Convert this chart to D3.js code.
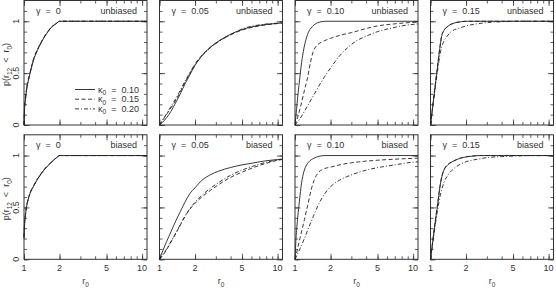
<!DOCTYPE html>
<html><head><meta charset="utf-8">
<script src="https://cdn.jsdelivr.net/npm/d3@7"></script>
<style>
body{margin:0;background:#fff;}
svg{display:block;font-family:"Liberation Sans",Arial,sans-serif;}
</style></head>
<body><svg id="c" width="556" height="290"></svg>
<script>
// ---- data ----
const gammaLabels = ["γ  =  0", "γ  =  0.05", "γ  =  0.10", "γ  =  0.15"];
const biasLabels = ["unbiased", "biased"];
const kappaValues = ["0.10", "0.15", "0.20"];
const xTickValues = [1, 2, 5, 10];
const xMinorTicks = [1, 2, 3, 4, 5, 6, 7, 8, 9, 10];
const yTickValues = [0, 0.5, 1];
const yMinorTicks = [0, 0.1, 0.2, 0.3, 0.4, 0.5, 0.6, 0.7, 0.8, 0.9, 1, 1.1];

// unbiased row: [r0, p]
const unb_g000_k010 = [[1,0],[1.01,0.14],[1.03,0.25],[1.05,0.33],[1.1,0.45],[1.15,0.54],[1.2,0.62],[1.3,0.72],[1.4,0.795],[1.5,0.855],[1.6,0.9],[1.7,0.94],[1.8,0.963],[1.9,0.983],[2,1],[11,1]];
const unb_g000_k015 = [[1,0],[1.01,0.16],[1.03,0.27],[1.05,0.35],[1.1,0.46],[1.15,0.55],[1.2,0.63],[1.3,0.73],[1.4,0.8],[1.5,0.86],[1.6,0.905],[1.7,0.943],[1.8,0.965],[1.9,0.984],[2,1],[11,1]];
const unb_g000_k020 = [[1,0],[1.01,0.15],[1.03,0.26],[1.05,0.34],[1.1,0.455],[1.15,0.545],[1.2,0.625],[1.3,0.725],[1.4,0.797],[1.5,0.857],[1.6,0.902],[1.7,0.941],[1.8,0.964],[1.9,0.983],[2,1],[11,1]];

const unb_g005_k010 = [[1,0],[1.1,0.045],[1.2,0.1],[1.3,0.165],[1.4,0.235],[1.5,0.3],[1.65,0.4],[1.8,0.48],[2,0.575],[2.3,0.67],[2.7,0.75],[3,0.79],[4,0.875],[5,0.92],[7,0.96],[10,0.98],[11,0.985]];
const unb_g005_k015 = [[1,0],[1.1,0.07],[1.2,0.135],[1.3,0.195],[1.4,0.255],[1.5,0.32],[1.65,0.415],[1.8,0.495],[2,0.585],[2.3,0.675],[2.7,0.75],[3,0.79],[4,0.87],[5,0.915],[7,0.955],[10,0.978],[11,0.983]];
const unb_g005_k020 = [[1,0],[1.1,0.075],[1.2,0.145],[1.3,0.21],[1.4,0.27],[1.5,0.335],[1.65,0.425],[1.8,0.5],[2,0.585],[2.3,0.67],[2.7,0.745],[3,0.785],[4,0.87],[5,0.925],[7,0.965],[10,0.982],[11,0.986]];

const unb_g010_k010 = [[1,0],[1.03,0.15],[1.05,0.25],[1.08,0.38],[1.1,0.46],[1.125,0.56],[1.15,0.64],[1.2,0.76],[1.25,0.84],[1.3,0.895],[1.37,0.935],[1.45,0.965],[1.55,0.985],[1.7,0.997],[1.8,1],[11,1]];
const unb_g010_k015 = [[1,0],[1.05,0.07],[1.1,0.15],[1.15,0.24],[1.2,0.33],[1.28,0.46],[1.35,0.6],[1.42,0.7],[1.5,0.755],[1.6,0.785],[1.8,0.815],[2,0.835],[2.5,0.87],[3,0.89],[4,0.93],[5,0.955],[7,0.975],[10,0.99],[11,0.993]];
const unb_g010_k020 = [[1,0],[1.1,0.06],[1.2,0.13],[1.3,0.2],[1.46,0.3],[1.7,0.43],[2.03,0.56],[2.4,0.67],[2.82,0.75],[3.3,0.81],[3.9,0.85],[5,0.9],[6.6,0.935],[8,0.955],[10,0.97],[11,0.975]];

const unb_g015_k010 = [[1,0],[1.05,0.2],[1.1,0.39],[1.15,0.57],[1.2,0.74],[1.24,0.85],[1.3,0.91],[1.4,0.95],[1.56,0.98],[1.8,0.995],[2,1],[11,1]];
const unb_g015_k015 = [[1,0],[1.05,0.21],[1.1,0.4],[1.15,0.58],[1.2,0.75],[1.24,0.855],[1.3,0.912],[1.4,0.952],[1.56,0.98],[1.8,0.995],[2,1],[11,1]];
const unb_g015_k020 = [[1,0],[1.05,0.19],[1.1,0.37],[1.15,0.53],[1.2,0.67],[1.25,0.76],[1.3,0.81],[1.37,0.85],[1.5,0.9],[1.77,0.935],[2,0.955],[2.47,0.975],[3,0.987],[4,0.995],[5,1],[11,1]];

// biased row
const bia_g000_k010 = [[1,0.2],[1.01,0.32],[1.03,0.43],[1.05,0.5],[1.1,0.6],[1.125,0.635],[1.2,0.7],[1.3,0.77],[1.37,0.81],[1.5,0.87],[1.67,0.925],[1.8,0.96],[1.9,0.982],[2,1],[11,1]];
const bia_g000_k015 = [[1,0.22],[1.01,0.34],[1.03,0.44],[1.05,0.51],[1.1,0.605],[1.125,0.64],[1.2,0.705],[1.3,0.775],[1.37,0.813],[1.5,0.872],[1.67,0.927],[1.8,0.961],[1.9,0.983],[2,1],[11,1]];
const bia_g000_k020 = [[1,0.21],[1.01,0.33],[1.03,0.435],[1.05,0.505],[1.1,0.6],[1.125,0.637],[1.2,0.702],[1.3,0.772],[1.37,0.811],[1.5,0.871],[1.67,0.926],[1.8,0.96],[1.9,0.982],[2,1],[11,1]];

const bia_g005_k010 = [[1,0],[1.1,0.12],[1.2,0.22],[1.3,0.31],[1.4,0.39],[1.5,0.46],[1.64,0.55],[1.8,0.63],[2,0.69],[2.28,0.76],[2.7,0.815],[3.17,0.85],[4,0.885],[5,0.91],[6.1,0.927],[8,0.95],[10,0.962],[11,0.966]];
const bia_g005_k015 = [[1,0],[1.1,0.06],[1.2,0.13],[1.3,0.2],[1.4,0.265],[1.5,0.33],[1.64,0.41],[1.8,0.48],[2,0.54],[2.28,0.6],[2.7,0.665],[3.17,0.72],[4,0.79],[5,0.84],[6.1,0.88],[8,0.925],[10,0.955],[11,0.962]];
const bia_g005_k020 = [[1,0],[1.1,0.065],[1.2,0.135],[1.3,0.205],[1.4,0.27],[1.5,0.335],[1.64,0.415],[1.8,0.485],[2,0.55],[2.28,0.615],[2.7,0.685],[3.17,0.74],[4,0.81],[5,0.86],[6.1,0.895],[8,0.935],[10,0.958],[11,0.964]];

const bia_g010_k010 = [[1,0],[1.02,0.2],[1.05,0.38],[1.08,0.52],[1.1,0.6],[1.125,0.7],[1.15,0.77],[1.2,0.86],[1.24,0.9],[1.3,0.935],[1.45,0.975],[1.6,0.993],[1.8,1],[11,1]];
const bia_g010_k015 = [[1,0],[1.05,0.1],[1.1,0.2],[1.15,0.29],[1.2,0.38],[1.28,0.52],[1.37,0.67],[1.45,0.76],[1.56,0.83],[1.7,0.865],[2.03,0.89],[2.5,0.915],[3,0.93],[3.9,0.945],[5,0.955],[7,0.965],[10,0.973],[11,0.975]];
const bia_g010_k020 = [[1,0],[1.05,0.05],[1.1,0.1],[1.2,0.2],[1.3,0.3],[1.4,0.39],[1.5,0.47],[1.6,0.54],[1.78,0.63],[2,0.7],[2.4,0.765],[2.8,0.8],[3.5,0.84],[4.2,0.865],[5.4,0.89],[7,0.91],[9,0.93],[11,0.94]];

const bia_g015_k010 = [[1,0],[1.05,0.19],[1.1,0.37],[1.15,0.53],[1.2,0.69],[1.25,0.8],[1.3,0.86],[1.4,0.91],[1.56,0.945],[1.7,0.965],[1.9,0.982],[2.2,0.993],[2.6,1],[11,1]];
const bia_g015_k015 = [[1,0],[1.05,0.2],[1.1,0.38],[1.15,0.54],[1.2,0.7],[1.25,0.805],[1.3,0.862],[1.4,0.912],[1.56,0.947],[1.7,0.967],[1.9,0.983],[2.2,0.994],[2.6,1],[11,1]];
const bia_g015_k020 = [[1,0],[1.05,0.17],[1.1,0.34],[1.15,0.48],[1.2,0.6],[1.25,0.68],[1.3,0.74],[1.4,0.81],[1.56,0.87],[1.78,0.915],[2,0.94],[2.5,0.965],[3,0.98],[4,0.99],[5,0.995],[7,1],[11,1]];

const panelSeries = [
  [[unb_g000_k010, unb_g000_k015, unb_g000_k020],
   [unb_g005_k010, unb_g005_k015, unb_g005_k020],
   [unb_g010_k010, unb_g010_k015, unb_g010_k020],
   [unb_g015_k010, unb_g015_k015, unb_g015_k020]],
  [[bia_g000_k010, bia_g000_k015, bia_g000_k020],
   [bia_g005_k010, bia_g005_k015, bia_g005_k020],
   [bia_g010_k010, bia_g010_k015, bia_g010_k020],
   [bia_g015_k010, bia_g015_k015, bia_g015_k020]]
];

// ---- layout ----
const svg = d3.select("#c");
const panelW = 123, panelH = 124.5;
const panelLefts = [24, 159.5, 295, 430.5];
const panelTops = [0.5, 134.8];
const dashes = [null, "4,2.5", "4,2,1,2"];
const ink = "#333";
const fontSize = 9;

panelTops.forEach((top, row) => {
  panelLefts.forEach((left, col) => {
    const x = d3.scaleLog().domain([1, 11]).range([left, left + panelW]);
    const y = d3.scaleLinear().domain([0, 1.2]).range([top + panelH, top]);
    const g = svg.append("g");

    // ticks via axes (inward)
    const mk = (axis, tf, vals, size) => {
      const a = g.append("g").attr("transform", tf)
        .call(axis.tickValues(vals).tickSize(size).tickFormat(""));
      a.select(".domain").remove();
      a.selectAll("line").attr("stroke", ink).attr("stroke-width", 0.8);
    };
    const bottom = top + panelH, right = left + panelW;
    mk(d3.axisBottom(x), `translate(0,${bottom})`, xMinorTicks, -3);
    mk(d3.axisBottom(x), `translate(0,${bottom})`, xTickValues, -5.5);
    mk(d3.axisTop(x), `translate(0,${top})`, xMinorTicks, -3);
    mk(d3.axisTop(x), `translate(0,${top})`, xTickValues, -5.5);
    mk(d3.axisLeft(y), `translate(${left},0)`, yMinorTicks, -3);
    mk(d3.axisLeft(y), `translate(${left},0)`, yTickValues, -5.5);
    mk(d3.axisRight(y), `translate(${right},0)`, yMinorTicks, -3);
    mk(d3.axisRight(y), `translate(${right},0)`, yTickValues, -5.5);

    // frame
    g.append("rect").attr("x", left).attr("y", top).attr("width", panelW).attr("height", panelH)
      .attr("fill", "none").attr("stroke", ink).attr("stroke-width", 1);

    // curves
    const line = d3.line().x(d => x(d[0])).y(d => y(d[1])).curve(d3.curveMonotoneX);
    panelSeries[row][col].forEach((s, k) => {
      g.append("path").attr("d", line(s)).attr("fill", "none")
        .attr("stroke", "#222").attr("stroke-width", 0.9)
        .attr("stroke-dasharray", dashes[k]);
    });

    // labels
    g.append("text").attr("x", left + 12).attr("y", top + 13)
      .attr("font-size", fontSize).attr("fill", ink).style("white-space", "pre")
      .text(gammaLabels[col]);
    g.append("text").attr("x", right - 10).attr("y", top + 13).attr("text-anchor", "end")
      .attr("font-size", fontSize).attr("fill", ink).text(biasLabels[row]);

    // y tick labels on first column
    if (col === 0) {
      yTickValues.forEach(v => {
        g.append("text").attr("transform", `translate(${left - 5},${y(v)}) rotate(-90)`)
          .attr("text-anchor", "middle").attr("font-size", fontSize).attr("fill", ink).text(v);
      });
      const t = g.append("text").attr("transform", `translate(${left - 15},${top + 64}) rotate(-90)`)
        .attr("text-anchor", "middle").attr("font-size", fontSize).attr("fill", ink);
      t.append("tspan").text("p(r");
      t.append("tspan").attr("dy", 2.5).attr("font-size", 6.5).text("12");
      t.append("tspan").attr("dy", -2.5).style("white-space", "pre").text("  <  r");
      t.append("tspan").attr("dy", 2.5).attr("font-size", 6.5).text("0");
      t.append("tspan").attr("dy", -2.5).text(")");
    }
    // x tick labels on bottom row
    if (row === 1) {
      xTickValues.forEach(v => {
        g.append("text").attr("x", x(v)).attr("y", bottom + 12).attr("text-anchor", "middle")
          .attr("font-size", fontSize).attr("fill", ink).text(v);
      });
      const t = g.append("text").attr("x", left + panelW / 2).attr("y", bottom + 25)
        .attr("text-anchor", "middle").attr("font-size", fontSize).attr("fill", ink);
      t.append("tspan").text("r");
      t.append("tspan").attr("dy", 2.5).attr("font-size", 6.5).text("0");
    }

    // legend in first panel
    if (row === 0 && col === 0) {
      kappaValues.forEach((kv, k) => {
        const ly = top + 89 + k * 9.7;
        g.append("line").attr("x1", left + 51).attr("x2", left + 71).attr("y1", ly).attr("y2", ly)
          .attr("stroke", "#222").attr("stroke-width", 0.9).attr("stroke-dasharray", dashes[k]);
        const t = g.append("text").attr("x", left + 74).attr("y", ly + 3)
          .attr("font-size", fontSize).attr("fill", ink);
        t.append("tspan").text("κ");
        t.append("tspan").attr("dy", 2.5).attr("font-size", 6.5).text("0");
        t.append("tspan").attr("dy", -2.5).style("white-space", "pre").text("  =  " + kv);
      });
    }
  });
});
</script></body></html>
